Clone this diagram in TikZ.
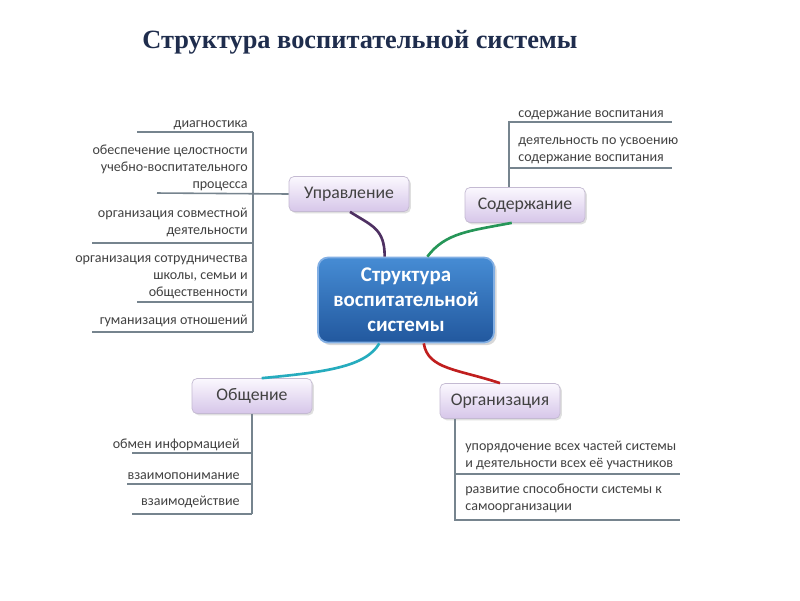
\documentclass[tikz,border=0pt]{standalone}
\usepackage{fontspec}
\setmainfont{Carlito}
\newfontfamily\titlefont{Liberation Serif}
\usepackage{xcolor}
\usetikzlibrary{positioning, calc, shadows}
\definecolor{TitleNavy}{RGB}{31,45,77}
\definecolor{BoxTop}{RGB}{251,248,254}
\definecolor{BoxBottom}{RGB}{214,198,233}
\definecolor{BoxEdge}{RGB}{196,186,210}
\definecolor{CoreTop}{RGB}{70,140,212}
\definecolor{CoreBottom}{RGB}{34,88,158}
\definecolor{CoreEdge}{RGB}{130,175,228}
\definecolor{LineGrey}{RGB}{118,132,142}
\definecolor{TextGrey}{RGB}{66,66,66}
\definecolor{LinkPurple}{RGB}{78,48,98}
\definecolor{LinkGreen}{RGB}{38,150,88}
\definecolor{LinkCyan}{RGB}{38,172,190}
\definecolor{LinkRed}{RGB}{192,30,30}

\begin{document}
\begin{tikzpicture}[
        x=0.02cm, y=-0.02cm,
        core/.style={draw=CoreEdge, line width=1pt, rounded corners=0.2cm,
                     top color=CoreTop, bottom color=CoreBottom,
                     text=white, align=center,
                     font=\bfseries\fontsize{11.9}{14.2}\selectfont,
                     minimum width=3.52cm, minimum height=1.7cm,
                     drop shadow={opacity=0.3, shadow xshift=1.5pt, shadow yshift=-1.5pt}},
        branch/.style={draw=BoxEdge, rounded corners=0.1cm,
                       top color=BoxTop, bottom color=BoxBottom,
                       text=TextGrey, font=\fontsize{10.1}{12}\selectfont,
                       minimum width=2.4cm, minimum height=0.7cm,
                       drop shadow={opacity=0.25, shadow xshift=1pt, shadow yshift=-1pt}},
        item/.style={inner sep=0pt, text=TextGrey,
                     font=\fontsize{8}{9.7}\selectfont},
        itemL/.style={item, anchor=south east, align=right},
        itemR/.style={item, anchor=south west, align=left},
        rule/.style={draw=LineGrey, line width=0.9pt},
        link/.style={line width=1.5pt, draw=#1}
      ]
        \fill[white] (0,0) rectangle (800,600);
        \useasboundingbox (0,0) rectangle (800,600);

        \node[anchor=base, text=TitleNavy, font=\titlefont\bfseries\fontsize{15}{18}\selectfont]
          (title) at (360,48) {Структура воспитательной системы};

        \node[core] (core) at (406,300) {Структура\\воспитательной\\системы};

        \node[branch] (upr) at (349,194) {Управление};
        \node[branch] (sod) at (525,205) {Содержание};
        \node[branch] (obs) at (252,396) {Общение};
        \node[branch] (org) at (500,401) {Организация};

        % links to the core
        \draw[link=LinkPurple] ($(upr.south)+(1,0)$)
          .. controls +(22,14) and +(0,-28) .. ($(core.north west)!0.38!(core.north east)$);
        \draw[link=LinkGreen] ($(sod.south west)!0.39!(sod.south east)$)
          .. controls +(-42,8) and +(18,-24) .. ($(core.north west)!0.62!(core.north east)$);
        \draw[link=LinkCyan] ($(core.south west)!0.35!(core.south east)$)
          .. controls +(-14,24) and +(62,-6) .. ($(obs.north west)!0.58!(obs.north east)$);
        \draw[link=LinkRed] ($(core.south west)!0.6!(core.south east)$)
          .. controls +(4,26) and +(-42,-14) .. (org.north);

        % Управление
        \node[itemL] (u1) at (248,130) {диагностика};
        \node[itemL] (u2) at (248,191) {обеспечение целостности\\учебно-воспитательного\\процесса};
        \node[itemL] (u3) at (248,237) {организация совместной\\деятельности};
        \node[itemL] (u4) at (248,299) {организация сотрудничества\\школы, семьи и\\общественности};
        \node[itemL] (u5) at (248,327) {гуманизация отношений};
        \coordinate (uTop) at (253,132);
        \coordinate (uBot) at (253,332);
        \draw[rule] (uTop) -- (uBot);
        \draw[rule] (137,132) -- (uTop);
        \draw[rule] (157,193) -- (upr.west);
        \draw[rule] (92,243) -- (253,243);
        \draw[rule] (137,302) -- (253,302);
        \draw[rule] (92,332) -- (uBot);

        % Содержание
        \node[itemR] (s1) at (518,120) {содержание воспитания};
        \node[itemR] (s2) at (518,164) {деятельность по усвоению\\содержание воспитания};
        \coordinate (sTop) at (sod.north -| 509,0);
        \draw[rule] (sTop) -- (509,122) -- (672,122);
        \draw[rule] (509,168) -- (672,168);

        % Общение
        \node[itemL] (o1) at (240,451) {обмен информацией};
        \node[itemL] (o2) at (240,480) {взаимопонимание};
        \node[itemL] (o3) at (240,508) {взаимодействие};
        \coordinate (oBot) at (obs.south |- 0,514);
        \draw[rule] (obs.south) -- (oBot);
        \draw[rule] (132,453) -- (obs.south |- 0,453);
        \draw[rule] (127,484) -- (obs.south |- 0,484);
        \draw[rule] (132,514) -- (oBot);

        % Организация
        \node[itemR] (g1) at (465,470) {упорядочение всех частей системы\\и деятельности всех её участников};
        \node[itemR] (g2) at (465,513) {развитие способности системы к\\самоорганизации};
        \coordinate (gBot) at (455,520);
        \draw[rule] (org.south -| gBot) -- (gBot) -- (680,520);
        \draw[rule] (455,474) -- (680,474);
      \end{tikzpicture}
\end{document}
